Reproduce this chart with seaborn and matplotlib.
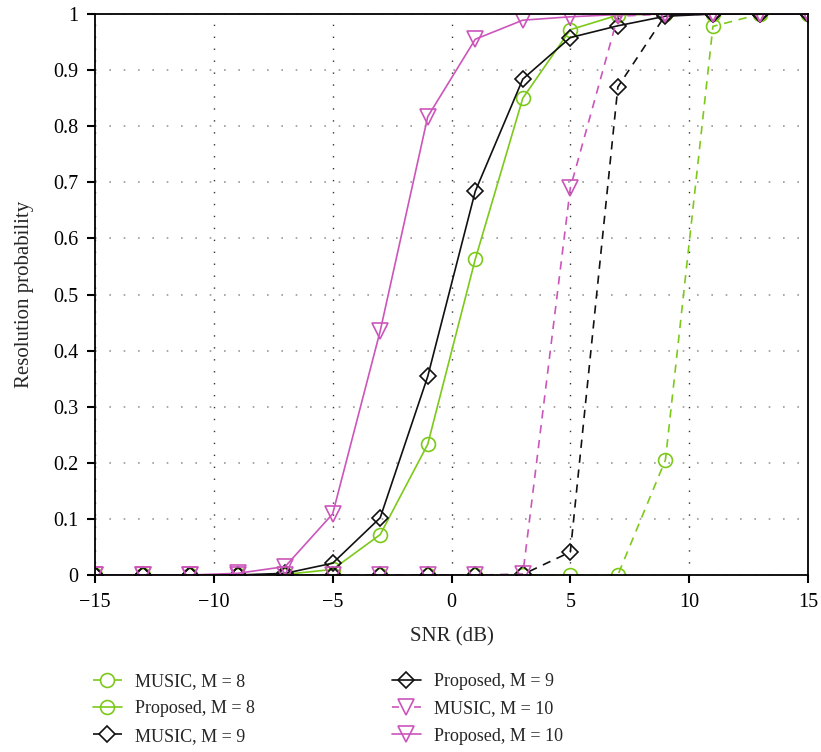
import matplotlib
matplotlib.use("Agg")
import matplotlib.pyplot as plt
import seaborn as sns
import numpy as np

snr = [-15, -13, -11, -9, -7, -5, -3, -1, 1, 3, 5, 7, 9, 11, 13, 15]

music_m8 = [0, 0, 0, 0, 0, 0, 0, 0, 0, 0, 0, 0, 0.205, 0.978, 1.0, 1.0]
prop_m8 = [0, 0, 0, 0, 0.001, 0.01, 0.072, 0.233, 0.563, 0.85, 0.972, 0.998, 1.0, 1.0, 1.0, 1.0]
music_m9 = [0, 0, 0, 0, 0, 0, 0, 0, 0, 0.001, 0.041, 0.87, 0.998, 1.0, 1.0, 1.0]
prop_m9 = [0, 0, 0, 0, 0.003, 0.021, 0.102, 0.354, 0.684, 0.884, 0.958, 0.979, 0.996, 1.0, 1.0, 1.0]
music_m10 = [0, 0, 0, 0, 0, 0, 0, 0, 0, 0.001, 0.69, 0.996, 1.0, 1.0, 1.0, 1.0]
prop_m10 = [0, 0, 0, 0.003, 0.015, 0.109, 0.435, 0.817, 0.955, 0.989, 0.995, 0.999, 1.0, 1.0, 1.0, 1.0]

labels = ["MUSIC, M = 8", "Proposed, M = 8", "MUSIC, M = 9",
          "Proposed, M = 9", "MUSIC, M = 10", "Proposed, M = 10"]

green = "#7dc91a"
pink = "#cc55bb"
black = "#111111"

sns.set_style("white")
plt.rcParams["font.family"] = ["Liberation Serif", "DejaVu Serif"]

fig = plt.figure(figsize=(8.21, 7.52), dpi=100)
ax = fig.add_axes([95 / 821, 1 - 575 / 752, 713 / 821, 561 / 752])

series = [
    (music_m8, green, "o", (0, (5, 4)), 10),
    (prop_m8, green, "o", "-", 10),
    (music_m9, black, "D", (0, (5, 4)), 8.5),
    (prop_m9, black, "D", "-", 8.5),
    (music_m10, pink, "v", (0, (5, 4)), 12),
    (prop_m10, pink, "v", "-", 12),
]

for (vals, c, m, ls, ms), lab in zip(series, labels):
    sns.lineplot(x=snr, y=vals, ax=ax, color=c, marker=m, linestyle=ls,
                 markersize=ms, markerfacecolor="none", markeredgecolor=c,
                 markeredgewidth=1.2, linewidth=1.2, label=lab)

ax.set_xlim(-15, 15)
ax.set_ylim(0, 1)
ax.set_xticks([-15, -10, -5, 0, 5, 10, 15])
ax.set_xticklabels(["\u221215", "\u221210", "\u22125", "0", "5", "10", "15"])
ax.set_yticks(np.arange(0, 1.01, 0.1))
ax.set_yticklabels(["0", "0.1", "0.2", "0.3", "0.4", "0.5", "0.6", "0.7", "0.8", "0.9", "1"])
ax.xaxis.grid(True, color="#333333", linestyle=(0, (1, 7.6)), linewidth=1.0)
ax.yaxis.grid(True, color="#999999", linestyle=(0, (1, 7.6)), linewidth=1.2)
ax.tick_params(axis="both", direction="out", length=6, width=1.5, labelsize=14.5,
               colors="black", left=True, bottom=True)
ax.tick_params(axis="y", pad=6)
ax.tick_params(axis="x", pad=7)
for sp in ax.spines.values():
    sp.set_color("black")
    sp.set_linewidth(1.3)

ax.set_xlabel("SNR (dB)", fontsize=15, labelpad=11)
ax.set_ylabel("Resolution probability", fontsize=15, labelpad=14)

leg = ax.legend(loc="upper left", bbox_to_anchor=(-0.026, -0.146), ncol=2, frameon=False,
                fontsize=13, handlelength=1.6, columnspacing=7.6, labelspacing=0.57,
                handletextpad=0.72)
for i, ln in enumerate(leg.get_lines()):
    if i in (0, 2, 4):
        ln.set_linestyle((0, (4.2, 9.0)))

fig.savefig("out.png", dpi=100)
